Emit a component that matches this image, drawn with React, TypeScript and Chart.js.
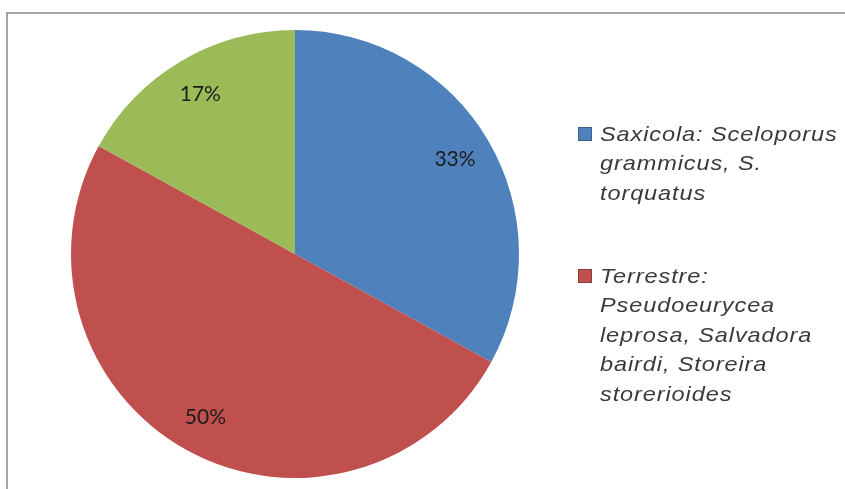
import React, { useEffect, useRef } from "react";
import { Chart, registerables } from "chart.js";

Chart.register(...registerables);

const categories: string[][] = [
  ["Saxicola: Sceloporus", "grammicus, S.", "torquatus"],
  ["Terrestre:", "Pseudoeurycea", "leprosa, Salvadora", "bairdi, Storeira", "storerioides"],
  ["Arborícola"],
];
const values: number[] = [33, 50, 17];
const valueLabels: string[] = ["33%", "50%", "17%"];
const colors: string[] = ["#4F81BD", "#C0504D", "#9BBB59"];
const legendShown = 2;

const sliceLabelPlugin = {
  id: "sliceLabels",
  afterDatasetsDraw(chart: any) {
    const ctx = chart.ctx;
    const meta = chart.getDatasetMeta(0);
    ctx.save();
    ctx.font = "21px Lato, 'Open Sans', sans-serif";
    ctx.fillStyle = "#1c1c1c";
    ctx.textAlign = "center";
    ctx.textBaseline = "middle";
    meta.data.forEach((arc: any, i: number) => {
      const p = arc.getProps(["x", "y", "startAngle", "endAngle", "outerRadius"], true);
      const mid = (p.startAngle + p.endAngle) / 2;
      const r = p.outerRadius * 0.83;
      ctx.fillText(valueLabels[i], p.x + Math.cos(mid) * r, p.y + Math.sin(mid) * r);
    });
    ctx.restore();
  },
};

const legendPlugin = {
  id: "sideLegend",
  afterDraw(chart: any) {
    const ctx = chart.ctx;
    const tops = [141, 283];
    const lh = 29.4;
    const sx = 1.12;
    for (let i = 0; i < legendShown; i++) {
      const base = tops[i];
      ctx.save();
      ctx.fillStyle = colors[i];
      ctx.fillRect(578, base - 14, 14, 14);
      ctx.strokeStyle = "rgba(0,0,0,0.25)";
      ctx.lineWidth = 1;
      ctx.strokeRect(578.5, base - 13.5, 13, 13);
      ctx.restore();
      ctx.save();
      ctx.translate(600, 0);
      ctx.scale(sx, 1);
      ctx.font = "italic 21px 'Liberation Sans', Arial, sans-serif";
      (ctx as any).letterSpacing = "0.8px";
      ctx.textBaseline = "alphabetic";
      ctx.textAlign = "left";
      ctx.fillStyle = "#3a3a3a";
      categories[i].forEach((line, j) => {
        ctx.fillText(line, 0, base + j * lh);
      });
      ctx.restore();
    }
  },
};

export default function App() {
  const ref = useRef<HTMLCanvasElement | null>(null);
  useEffect(() => {
    if (!ref.current) return;
    const chart = new Chart(ref.current, {
      type: "pie",
      data: {
        labels: categories.map((c) => c.join(" ")),
        datasets: [
          {
            data: values,
            backgroundColor: colors,
            borderWidth: 0,
          },
        ],
      },
      options: {
        animation: false,
        responsive: false,
        maintainAspectRatio: false,
        layout: { padding: { left: 71, top: 30, right: 326, bottom: 11 } },
        plugins: {
          legend: { display: false },
          tooltip: { enabled: false },
        },
      },
      plugins: [sliceLabelPlugin, legendPlugin],
    });
    return () => chart.destroy();
  }, []);
  return (
    <div style={{ position: "fixed", left: 0, top: 0, width: 845, height: 489, background: "#fff", overflow: "hidden" }}>
      <div
        style={{
          position: "absolute",
          left: 6,
          top: 12,
          width: 900,
          height: 600,
          borderTop: "2px solid #a6a6a6",
          borderLeft: "2px solid #a6a6a6",
        }}
      />
      <canvas ref={ref} width={845} height={489} style={{ position: "absolute", left: 0, top: 0 }} />
    </div>
  );
}
